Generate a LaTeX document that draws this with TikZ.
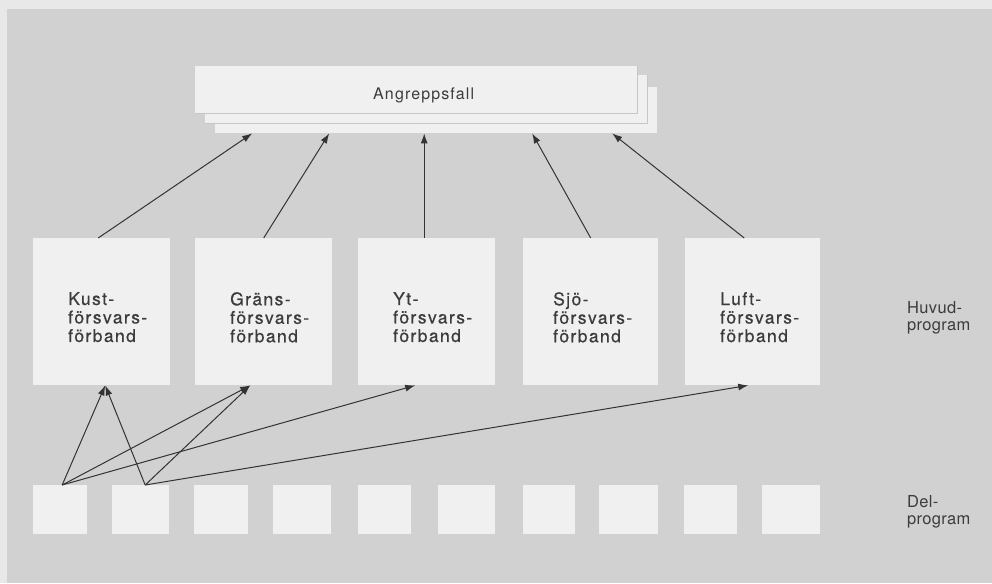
\documentclass[tikz,border=0pt]{standalone}
\usepackage{fontspec}
\setmainfont{TeX Gyre Heros}
\newfontfamily\boxfont[LetterSpace=8,FakeBold=0.5]{TeX Gyre Heros}
\newfontfamily\labelfont[LetterSpace=2]{TeX Gyre Heros}
\newfontfamily\titlefont[LetterSpace=7]{TeX Gyre Heros}
\usetikzlibrary{arrows.meta,calc}

\definecolor{paper}{HTML}{E8E8E8}
\definecolor{panel}{HTML}{D1D1D1}
\definecolor{card}{HTML}{F0F0F0}
\definecolor{edge}{HTML}{C6C6C6}
\definecolor{ink}{HTML}{333333}
\definecolor{txt}{HTML}{3C3C3C}

\tikzset{
  mainbox/.style={fill=card, draw=none, anchor=north west, inner sep=0pt,
                  minimum width=137pt, minimum height=147pt},
  subbox/.style={fill=card, draw=none, anchor=north west, inner sep=0pt,
                 minimum height=49pt},
  sheet/.style={fill=card, draw=none, anchor=north west, inner sep=0pt},
  boxtext/.style={anchor=north west, inner sep=0pt, align=left, text=txt,
                  font=\boxfont\fontsize{17.5}{18.5}\selectfont},
  sidelabel/.style={anchor=north west, inner sep=0pt, align=left, text=txt,
                    font=\labelfont\fontsize{16.5}{17.5}\selectfont},
  link/.style={draw=ink, line width=1pt, -{Latex[length=10pt,width=7pt]}}
}

\begin{document}
\begin{tikzpicture}[x=1pt,y=-1pt]
  \useasboundingbox (0,0) rectangle (992,583);
  % page and grey panel
  \fill[paper] (0,0) rectangle (992,583);
  \fill[panel] (7,9) rectangle (992,583);

  % stacked sheets of the top box
  \node[sheet, minimum width=442pt, minimum height=46pt] (sheetC) at (215,87) {};
  \node[sheet, minimum width=442pt, minimum height=48pt] (sheetB) at (205,75) {};
  \node[sheet, minimum width=442pt, minimum height=47pt] (sheetA) at (195,66) {};
  \draw[edge, line width=0.6pt] (sheetB.south west) -- (sheetB.south east) -- (sheetB.north east);
  \draw[edge, line width=0.6pt] (sheetA.south west) -- (sheetA.south east) -- (sheetA.north east);
  \node[anchor=base west, inner sep=0pt, text=txt,
        font=\titlefont\fontsize{16}{18}\selectfont] (attack) at (373,100) {Angreppsfall};

  % main programmes
  \node[mainbox] (kust) at (33,238) {};
  \node[mainbox] (grans) at (195,238) {};
  \node[mainbox] (yt) at (358,238) {};
  \node[mainbox, minimum width=135pt] (sjo) at (523,238) {};
  \node[mainbox, minimum width=135pt] (luft) at (685,238) {};

  \node[boxtext] (kustT) at (68,292) {Kust-\\försvars-\\förband};
  \node[boxtext] (gransT) at (230,292) {Gräns-\\försvars-\\förband};
  \node[boxtext] (ytT) at (393,292) {Yt-\\försvars-\\förband};
  \node[boxtext] (sjoT) at (553,292) {Sjö-\\försvars-\\förband};
  \node[boxtext] (luftT) at (720,292) {Luft-\\försvars-\\förband};

  % sub-programmes, two under each main programme
  \node[subbox, minimum width=54pt] (d1) at (33,485) {};
  \node[subbox, minimum width=57pt] (d2) at (112,485) {};
  \node[subbox, minimum width=54pt] (d3) at (194,485) {};
  \node[subbox, minimum width=58pt] (d4) at (273,485) {};
  \node[subbox, minimum width=53pt] (d5) at (358,485) {};
  \node[subbox, minimum width=57pt] (d6) at (438,485) {};
  \node[subbox, minimum width=52pt] (d7) at (523,485) {};
  \node[subbox, minimum width=59pt] (d8) at (599,485) {};
  \node[subbox, minimum width=53pt] (d9) at (684,485) {};
  \node[subbox, minimum width=58pt] (d10) at (762,485) {};

  % level labels
  \node[sidelabel] (huvud) at (907,301) {Huvud-\\program};
  \node[sidelabel] (del) at (907,495) {Del-\\program};

  % main programmes feed the attack cases
  \draw[link] ([xshift=-3.5pt]kust.north) -- ([xshift=-184pt]sheetC.south);
  \draw[link] (grans.north) -- ([xshift=-107pt]sheetC.south);
  \draw[link] ([xshift=-2.5pt]yt.north) -- ([xshift=-12pt]sheetC.south);
  \draw[link] (sjo.north) -- ([xshift=96pt]sheetC.south);
  \draw[link] ([xshift=-8.5pt]luft.north) -- ([xshift=176pt]sheetC.south);

  % sub-programmes feed the main programmes
  \draw[link] ([xshift=2pt]d1.north) -- ([xshift=3.5pt]kust.south);
  \draw[link] ([xshift=2pt]d1.north) -- ([xshift=-13.5pt]grans.south);
  \draw[link] ([xshift=2pt]d1.north) -- ([xshift=-11.5pt]yt.south);
  \draw[link] ([xshift=4.5pt]d2.north) -- ([xshift=3.5pt]kust.south);
  \draw[link] ([xshift=4.5pt]d2.north) -- ([xshift=-13.5pt]grans.south);
  \draw[link] ([xshift=4.5pt]d2.north) -- ([xshift=-4.5pt]luft.south);
\end{tikzpicture}
\end{document}
